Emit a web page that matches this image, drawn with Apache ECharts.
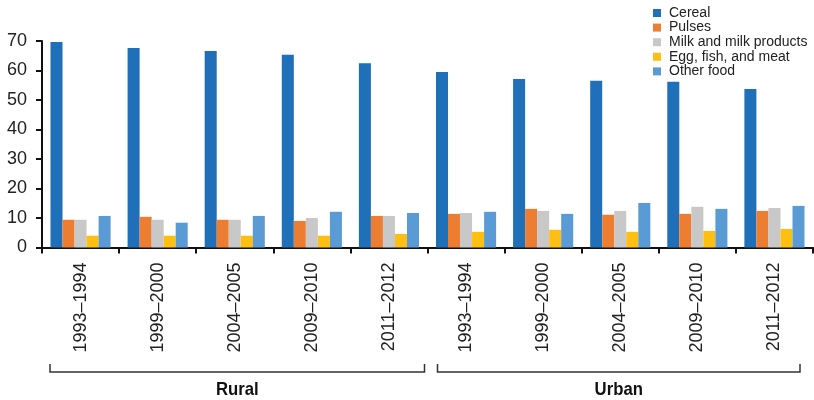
<!DOCTYPE html>
<html>
<head>
<meta charset="utf-8">
<script src="https://cdn.jsdelivr.net/npm/echarts@6/dist/echarts.min.js"></script>
<style>
  html, body { margin: 0; padding: 0; background: #fff; }
  #chart { width: 814px; height: 400px; }
</style>
</head>
<body>
<div id="chart"></div>
<script>
// periods repeat for each area
const areas = ["Rural", "Urban"];
const periods = ["1993–1994", "1999–2000", "2004–2005", "2009–2010", "2011–2012"];
const yTicks = [0, 10, 20, 30, 40, 50, 60, 70];

const cereal = [69.7, 67.6, 66.6, 65.3, 62.5, 59.5, 57.1, 56.5, 56.2, 53.7];
const pulses = [9.4, 10.4, 9.4, 9.0, 10.7, 11.4, 13.1, 11.1, 11.4, 12.4];
const milk = [9.4, 9.4, 9.4, 10.0, 10.7, 11.7, 12.4, 12.4, 13.8, 13.4];
const eggFishMeat = [4.0, 4.0, 4.0, 4.0, 4.6, 5.3, 6.0, 5.3, 5.6, 6.3];
const otherFood = [10.7, 8.4, 10.7, 12.1, 11.7, 12.1, 11.4, 15.1, 13.1, 14.1];

const seriesNames = ["Cereal", "Pulses", "Milk and milk products", "Egg, fish, and meat", "Other food"];
const seriesColors = ["#1f70b8", "#ed7d31", "#c8c8c8", "#fdbf12", "#5b9bd5"];
const seriesValues = [cereal, pulses, milk, eggFishMeat, otherFood];

// unique category keys, label shows only the period
const categories = [];
areas.forEach((a) => periods.forEach((p) => categories.push(a + "|" + p)));

const font = "'Liberation Sans Narrow', 'Liberation Sans', Arial, sans-serif";
const chart = echarts.init(document.getElementById("chart"));

const options = {
  backgroundColor: "#fff",
  animation: false,
  legend: {
    orient: "vertical",
    left: 653,
    top: 6,
    padding: 0,
    icon: "rect",
    itemWidth: 8,
    itemHeight: 8,
    itemGap: 0.6,
    data: seriesNames,
    textStyle: { fontFamily: font, fontSize: 14, color: "#222", lineHeight: 14, padding: [0, 0, 0, 3] },
  },
  grid: { left: 42, right: 1, top: 41, bottom: 152.5 },
  xAxis: {
    type: "category",
    data: categories,
    axisLine: { lineStyle: { color: "#111", width: 2 } },
    axisTick: { show: true, length: 6, lineStyle: { color: "#111", width: 2 } },
    axisLabel: {
      rotate: 90,
      margin: 15,
      interval: 0,
      fontFamily: font,
      fontSize: 18,
      color: "#222",
      formatter: (v) => v.split("|")[1],
    },
  },
  yAxis: {
    type: "value",
    min: yTicks[0],
    max: yTicks[yTicks.length - 1],
    interval: 10,
    axisLine: { show: true, lineStyle: { color: "#111", width: 2 } },
    axisTick: { show: true, length: 6, lineStyle: { color: "#111", width: 2 } },
    splitLine: { show: false },
    axisLabel: { margin: 15, fontFamily: font, fontSize: 18, color: "#222" },
  },
  series: seriesNames.map((name, i) => ({
    name: name,
    type: "bar",
    barGap: "0%",
    barCategoryGap: "22%",
    itemStyle: { color: seriesColors[i] },
    data: seriesValues[i],
  })),
};
chart.setOption(options);

// brackets under each area group
const graphics = [];
const n = periods.length;
areas.forEach((a, k) => {
  const first = chart.convertToPixel({ xAxisIndex: 0 }, categories[k * n]);
  const last = chart.convertToPixel({ xAxisIndex: 0 }, categories[k * n + n - 1]);
  const half = (chart.convertToPixel({ xAxisIndex: 0 }, categories[1]) -
    chart.convertToPixel({ xAxisIndex: 0 }, categories[0])) / 2;
  const x1 = first - half + (k === 0 ? 8 : 10);
  const x2 = last + half - (k === 0 ? 3 : 13);
  graphics.push({
    type: "polyline",
    shape: { points: [[x1, 364], [x1, 372], [x2, 372], [x2, 364]] },
    style: { stroke: "#333", lineWidth: 1.5, fill: null },
  });
  graphics.push({
    type: "text",
    x: (x1 + x2) / 2,
    y: 390,
    scaleX: 0.88,
    style: {
      text: a,
      fontFamily: font,
      fontWeight: "bold",
      fontSize: 19,
      fill: "#111",
      align: "center",
      verticalAlign: "middle",
    },
  });
});
chart.setOption({ graphic: graphics });
</script>
</body>
</html>
